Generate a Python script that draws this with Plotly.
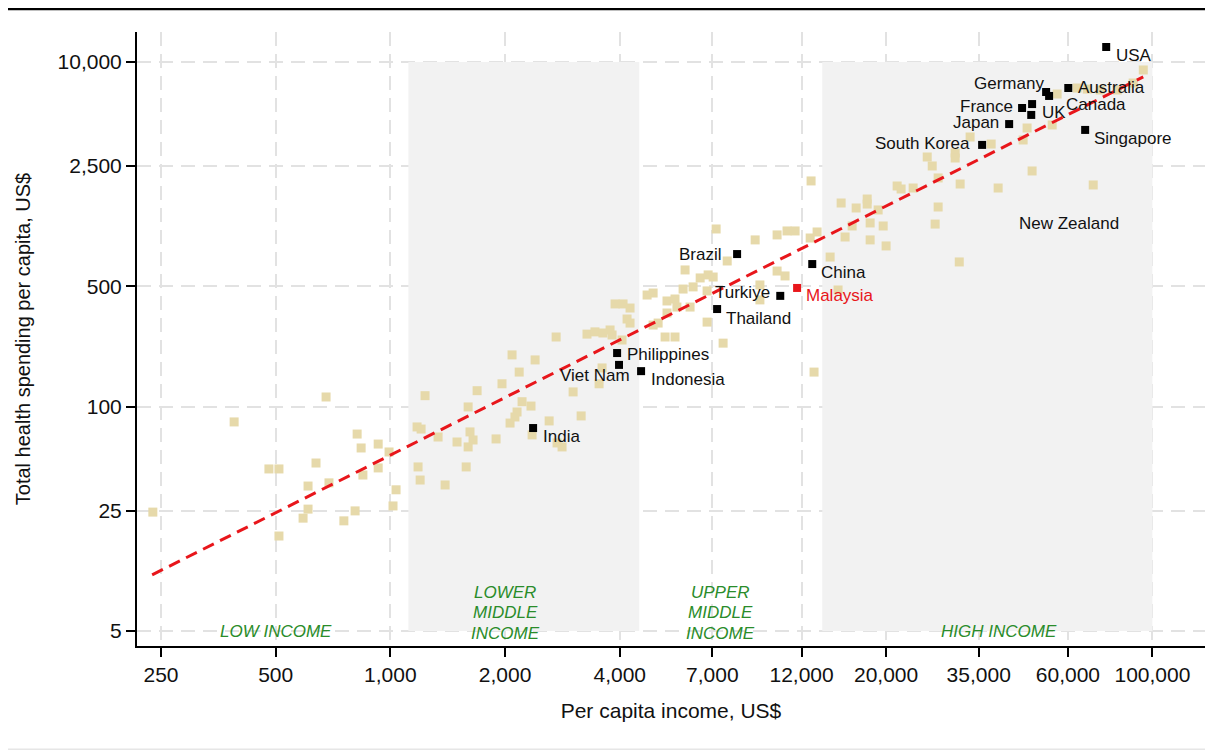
import numpy as np
import plotly.graph_objects as go

FONT = "Liberation Sans, Arial, sans-serif"

# ---------------- data ----------------
# background countries: per-capita income (US$) and total health spending per capita (US$)
bg_income = [238, 389, 678, 480, 510, 510, 638, 608, 690, 608, 590, 755, 808, 818, 838, 847,
             929, 929, 992, 1035, 1016, 1175, 1204, 1182, 1197, 1233, 1392, 1334, 1496, 1581,
             1600, 1618, 1648, 1600, 1689, 1894, 1963, 2086, 2178, 2216, 2150, 2123, 2061, 2339,
             2398, 2610, 2355, 2738, 2822, 2723, 3017, 3167, 3281, 3443, 3613, 3772, 3818, 3594,
             3530, 3888, 4080, 4256, 4180, 4256, 4055, 4718, 4893, 4893, 5043, 5321, 5585, 5650,
             5260, 5585, 6117, 5321, 5935, 5864, 6230, 6502, 6823, 7033, 6780, 7161, 7656, 6780,
             7469, 9065, 10350, 10990, 11540, 12640, 13180, 9330, 9330, 10350, 10860, 14260, 14960,
             12940, 12710, 15240, 16690, 17840, 17840, 19060, 16290, 18160, 19650, 15610, 18160,
             20000, 21380, 21900, 23550, 25640, 26430, 27390, 30360, 30360, 31290, 27390, 26900,
             31120, 33230, 37740, 39360, 45780, 46890, 48330, 54570, 56230, 63460, 67450, 72930,
             80830, 89020, 94620, 69930]
bg_health = [24.5, 81.7, 114, 43.6, 43.6, 17.8, 47.2, 34.7, 36.2, 25.5, 22.6, 21.8, 24.9, 69.5,
             57.7, 40.2, 60.8, 44.2, 54.7, 33.0, 26.6, 76.4, 74.3, 44.8, 37.6, 116, 35.2, 66.8,
             62.5, 44.8, 99.8, 71.5, 64.2, 58.5, 124, 65.1, 136, 200, 159, 107, 93.3, 87.3, 80.5,
             101, 187, 82.8, 68.7, 61.7, 58.5, 254, 122, 88.5, 264, 272, 268, 279, 261, 168, 136,
             395, 395, 374, 323, 306, 244, 445, 457, 298, 306, 411, 422, 379, 254, 254, 379, 350,
             622, 482, 496, 559, 582, 566, 470, 1075, 701, 310, 234, 929, 993, 1047, 1047, 953,
             1033, 509, 417, 613, 574, 739, 476, 159, 2042, 1521, 1423, 1604, 1500, 1386, 1119,
             1165, 1119, 966, 929, 857, 1909, 1834, 1858, 2812, 2494, 2125, 2966, 2774, 1960, 1442,
             1148, 692, 3673, 3343, 1858, 3529, 4141, 2333, 4313, 6520, 7065, 6966, 6880, 6880,
             7551, 8990, 1935]

# highlighted countries
hl_names = ["USA", "Australia", "Germany", "Canada", "France", "UK", "New Zealand", "Japan",
            "South Korea", "Singapore", "Brazil", "China", "Turkiye", "Thailand", "Philippines",
            "Viet Nam", "Indonesia", "India"]
hl_income = [75630, 60140, 52600, 53560, 45490, 48330, 48080, 42070, 35730, 66600, 8128, 12800,
             10550, 7203, 3936, 3982, 4550, 2369]
hl_health = [12220, 7065, 6699, 6353, 5408, 5702, 4931, 4365, 3304, 4036, 769, 673, 440, 369,
             205, 175, 161, 75.3]

my_name = ["Malaysia"]
my_income = [11680]
my_health = [489]

# fitted trend line end points (as drawn)
trend_income = [237, 94600]
trend_health = [10.6, 8200]

# income-group bands
band_lmic = [1115, 4500]
band_hic = [13600, 100000]
band_health = [5, 10000]
group_labels = ["LOW INCOME", "LOWER<br>MIDDLE<br>INCOME", "UPPER<br>MIDDLE<br>INCOME", "HIGH INCOME"]
group_x = [500, 2000, 7330, 39600]

x_ticks = [250, 500, 1000, 2000, 4000, 7000, 12000, 20000, 35000, 60000, 100000]
x_ticklabels = ["250", "500", "1,000", "2,000", "4,000", "7,000", "12,000", "20,000", "35,000",
                "60,000", "100,000"]
y_ticks = [5, 25, 100, 500, 2500, 10000]
y_ticklabels = ["5", "25", "100", "500", "2,500", "10,000"]

# label placement (style): xanchor, xshift, yshift
label_style = {
    "USA": ("left", 8, -9),
    "Australia": ("left", 8, 1),
    "Germany": ("right", 0, 8),
    "Canada": ("left", 15, -9),
    "France": ("right", -7, 2),
    "UK": ("left", 8, -8),
    "New Zealand": ("left", -14, -109),
    "Japan": ("right", -8, 2),
    "South Korea": ("right", -10, 1),
    "Singapore": ("left", 7, -9),
    "Brazil": ("right", -13, 0),
    "China": ("left", 7, -8),
    "Turkiye": ("right", -8, 3),
    "Thailand": ("left", 7, -9),
    "Philippines": ("left", 8, -1),
    "Viet Nam": ("right", 13, -11),
    "Indonesia": ("left", 8, -8),
    "India": ("left", 8, -8),
    "Malaysia": ("left", 7, -8),
}

TAN = "#e6d9aa"
BAND = "#f2f2f2"
GREEN = "#2a8c2a"
RED = "#e8161b"

fig = go.Figure()

# bands (drawn as filled traces so they sit above the grid)
for bx in (band_lmic, band_hic):
    fig.add_trace(go.Scatter(
        x=[bx[0], bx[1], bx[1], bx[0], bx[0]],
        y=[band_health[0], band_health[0], band_health[1], band_health[1], band_health[0]],
        mode="lines", fill="toself", fillcolor=BAND, line=dict(width=0, color=BAND),
        hoverinfo="skip"))

fig.add_trace(go.Scatter(x=bg_income, y=bg_health, mode="markers",
                         marker=dict(symbol="square", size=9, color=TAN)))

fig.add_trace(go.Scatter(x=trend_income, y=trend_health, mode="lines",
                         line=dict(color=RED, width=3, dash="12px,7px")))

fig.add_trace(go.Scatter(x=hl_income, y=hl_health, mode="markers", text=hl_names,
                         marker=dict(symbol="square", size=8, color="black")))
fig.add_trace(go.Scatter(x=my_income, y=my_health, mode="markers", text=my_name,
                         marker=dict(symbol="square", size=8, color=RED)))

annotations = []
for name, xv, yv in list(zip(hl_names, hl_income, hl_health)) + list(zip(my_name, my_income, my_health)):
    xa, xs, ys = label_style[name]
    annotations.append(dict(
        x=np.log10(xv), y=np.log10(yv), xref="x", yref="y", text=name, showarrow=False,
        xanchor=xa, yanchor="middle", xshift=xs, yshift=ys,
        font=dict(family=FONT, size=17, color=RED if name == "Malaysia" else "#111")))

# income group labels (one annotation per line)
for lab, gx in zip(group_labels, group_x):
    lines = lab.split("<br>")
    n = len(lines)
    for i, ln in enumerate(lines):
        shift = (n - 1 - i) * 20.5 - (2 if n > 1 else 0)
        annotations.append(dict(
            x=np.log10(gx), y=np.log10(band_health[0]), xref="x", yref="y", text="<i>" + ln + "</i>",
            showarrow=False, xanchor="center", yanchor="middle", yshift=shift,
            font=dict(family=FONT, size=17, color=GREEN)))

# the page body has an 8px default margin, so the figure is sized/placed to compensate
fig.update_layout(
    width=1205, height=743,
    margin=dict(l=129, r=8, t=24, b=105),
    plot_bgcolor="white", paper_bgcolor="white",
    showlegend=False,
    font=dict(family=FONT, color="#111"),
    annotations=annotations,
    shapes=[
        dict(type="line", xref="paper", yref="paper", x0=-0.2, x1=1.2, y0=1.0375, y1=1.0375,
             line=dict(color="black", width=2.5)),
        dict(type="line", xref="paper", yref="paper", x0=-0.2, x1=1.2, y0=-0.168, y1=-0.168,
             line=dict(color="#e6e6e6", width=1.5)),
    ],
)

axis_common = dict(
    type="log", ticks="outside", ticklen=9, tickwidth=2, tickcolor="black",
    showline=True, linewidth=2, linecolor="black", mirror=False, automargin=False,
    showgrid=True, gridcolor="#e2e2e2", gridwidth=2, griddash="14px,8px",
    zeroline=False, tickfont=dict(family=FONT, size=21, color="#111"),
)
fig.update_xaxes(**axis_common, range=[2.335, 5.138], tickvals=x_ticks, ticktext=x_ticklabels,
                 title=dict(text="Per capita income, US$", font=dict(family=FONT, size=21), standoff=18))
fig.update_yaxes(**axis_common, range=[0.6125, 4.174], tickvals=y_ticks, ticktext=y_ticklabels,
                 title=dict(text="Total health spending per capita, US$", font=dict(family=FONT, size=20),
                            standoff=22))

fig.write_html("out.html")
